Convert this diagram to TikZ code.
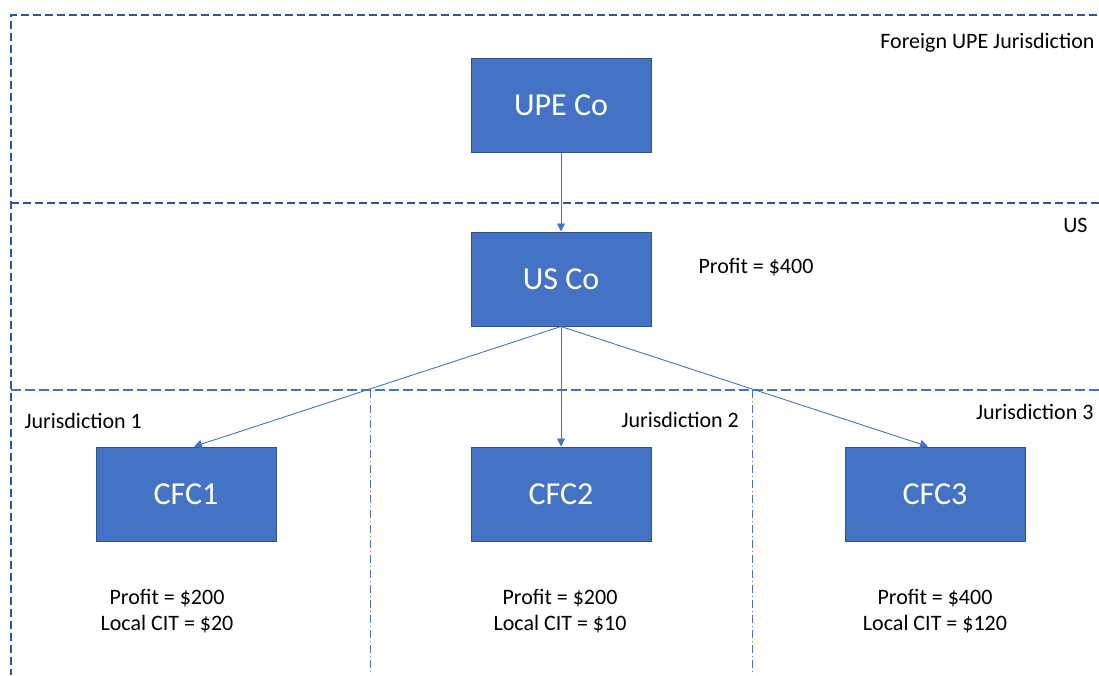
\documentclass[tikz,border=0pt]{standalone}
\usepackage{fontspec}
\setmainfont{Carlito}
\usetikzlibrary{arrows.meta}

\definecolor{boxblue}{HTML}{4472C4}
\definecolor{edgeblue}{HTML}{2F528F}
\definecolor{zoneblue}{HTML}{2F5597}

\tikzset{
    entity/.style={rectangle, fill=boxblue, draw=edgeblue, line width=1pt,
        minimum width=180pt, minimum height=94pt, text=white, font=\fontsize{32}{38}\selectfont},
    border/.style={zoneblue, line width=1.8pt, dash pattern=on 8pt off 4pt},
    divider/.style={boxblue, line width=1.3pt, dash pattern=on 10pt off 4pt},
    split/.style={boxblue, line width=0.7pt, dash pattern=on 8pt off 3pt on 1pt off 3pt},
    link/.style={boxblue, line width=0.9pt, -{Triangle[length=8pt,width=8pt]}},
    note/.style={font=\fontsize{22}{26}\selectfont, align=center}
}

\begin{document}
\begin{tikzpicture}[x=1pt, y=-1pt]
    \useasboundingbox (0,0) rectangle (1099,675);

    % jurisdiction borders
    \draw[border] (1097,15) -- (11,15) -- (11,675);
    \draw[border] (11,203) -- (1099,203);
    \draw[divider] (11,390) -- (1099,390);
    \draw[split] (370,390) -- (370,675);
    \draw[split] (752,390) -- (752,675);

    % zone labels
    \node[note, anchor=east] (foreign) at (1098,43) {Foreign UPE Jurisdiction};
    \node[note, anchor=east] (uszone) at (1091,225) {US};
    \node[note, anchor=west] (jur1) at (21,421) {Jurisdiction 1};
    \node[note, anchor=west] (jur2) at (618,420) {Jurisdiction 2};
    \node[note, anchor=east] (jur3) at (1097,412) {Jurisdiction 3};

    % entities
    \node[entity] (upe) at (561,105) {UPE Co};
    \node[entity] (us) at (561,279) {US Co};
    \node[entity] (cfc1) at (186,494) {CFC1};
    \node[entity] (cfc2) at (561,494) {CFC2};
    \node[entity] (cfc3) at (935,494) {CFC3};

    % ownership
    \draw[link] (upe.south) -- (us.north);
    \draw[link] (us.south) -- ([xshift=8pt]cfc1.north);
    \draw[link] (us.south) -- (cfc2.north);
    \draw[link] (us.south) -- ([xshift=-7pt]cfc3.north);

    % figures
    \node[note] (usprofit) at (756,267) {Profit = \$400};
    \node[note] (fig1) at (167,611) {Profit = \$200\\Local CIT = \$20};
    \node[note] (fig2) at (560,611) {Profit = \$200\\Local CIT = \$10};
    \node[note] (fig3) at (935,611) {Profit = \$400\\Local CIT = \$120};
\end{tikzpicture}
\end{document}
